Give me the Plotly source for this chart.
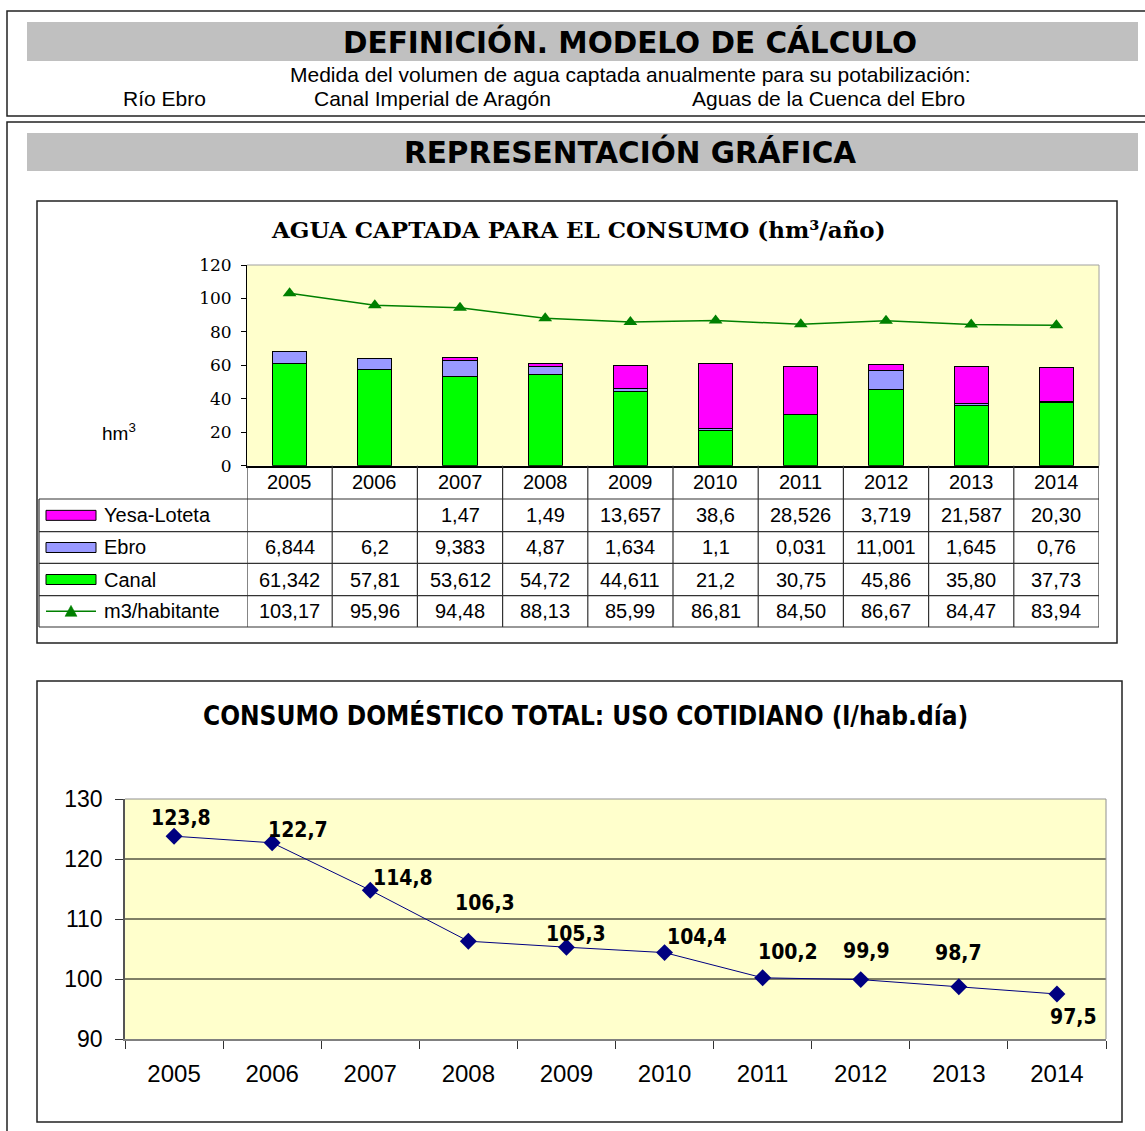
import plotly.graph_objects as go

# ---------------- data ----------------
years = ["2005", "2006", "2007", "2008", "2009", "2010", "2011", "2012", "2013", "2014"]

yesa_txt = [None, None, "1,47", "1,49", "13,657", "38,6", "28,526", "3,719", "21,587", "20,30"]
ebro_txt = ["6,844", "6,2", "9,383", "4,87", "1,634", "1,1", "0,031", "11,001", "1,645", "0,76"]
canal_txt = ["61,342", "57,81", "53,612", "54,72", "44,611", "21,2", "30,75", "45,86", "35,80", "37,73"]
hab_txt = ["103,17", "95,96", "94,48", "88,13", "85,99", "86,81", "84,50", "86,67", "84,47", "83,94"]

consumo_txt = ["123,8", "122,7", "114,8", "106,3", "105,3", "104,4", "100,2", "99,9", "98,7", "97,5"]


def num(s):
    return None if s is None else float(s.replace(",", "."))


yesa = [num(s) for s in yesa_txt]
ebro = [num(s) for s in ebro_txt]
canal = [num(s) for s in canal_txt]
hab = [num(s) for s in hab_txt]
consumo = [num(s) for s in consumo_txt]

# label offsets (pixels) for the second chart's data labels
label_dx = [7, 26, 33, 17, 10, 32, 25, 6, 0, 17]
label_dy = [18, 13, 12, 38, 13, 16, 26, 29, 34, -23]

# ---------------- helpers ----------------
W, H = 1145, 1131


def px(x):
    return x / W


def py(y):
    return 1 - y / H


SANS = "Liberation Sans, Arial, sans-serif"
NARROW = "Liberation Sans Narrow, Arial Narrow, DejaVu Sans Condensed, sans-serif"
SERIF = "DejaVu Serif, Times New Roman, serif"
HEAD = "DejaVu Sans, Verdana, Tahoma, sans-serif"

fig = go.Figure()

# ---------------- chart 1: stacked bars + line ----------------
bar_line = dict(color="black", width=1)
fig.add_trace(go.Bar(x=years, y=canal, name="Canal",
                     marker=dict(color="#00FF00", line=bar_line), xaxis="x", yaxis="y"))
fig.add_trace(go.Bar(x=years, y=ebro, name="Ebro",
                     marker=dict(color="#9999FF", line=bar_line), xaxis="x", yaxis="y"))
fig.add_trace(go.Bar(x=years, y=yesa, name="Yesa-Loteta",
                     marker=dict(color="#FF00FF", line=bar_line), xaxis="x", yaxis="y"))
fig.add_trace(go.Scatter(x=years, y=hab, name="m3/habitante", mode="lines+markers",
                         line=dict(color="#008000", width=1.5),
                         marker=dict(symbol="triangle-up", size=12, color="#008000"),
                         xaxis="x", yaxis="y"))

# ---------------- chart 2: line ----------------
fig.add_trace(go.Scatter(x=years, y=consumo, mode="lines+markers",
                         line=dict(color="#000080", width=1),
                         marker=dict(symbol="diamond", size=13, color="#000080"),
                         xaxis="x2", yaxis="y2"))

shapes = []
annotations = []


def note(text, x, y, size, family, xanchor="center", xref="paper", **kw):
    annotations.append(dict(text=text, x=x, y=y, xref=xref, yref=kw.pop("yref", "paper"),
                            xanchor=xanchor, yanchor="middle", showarrow=False,
                            font=dict(family=family, size=size, color="black"), **kw))


# page frames
shapes.append(dict(type="rect", xref="paper", yref="paper", x0=px(7), x1=px(1160),
                   y0=py(11), y1=py(116), line=dict(color="#222", width=1.5)))
shapes.append(dict(type="rect", xref="paper", yref="paper", x0=px(7), x1=px(1160),
                   y0=py(122), y1=py(1160), line=dict(color="#222", width=1.5)))
for (t, b) in [(22, 61), (133, 171)]:
    shapes.append(dict(type="rect", xref="paper", yref="paper", x0=px(27), x1=px(1138),
                       y0=py(t), y1=py(b), fillcolor="#C0C0C0", line=dict(width=0), layer="below"))

note("<b>DEFINICIÓN. MODELO DE CÁLCULO</b>", px(630), py(42), 29.5, HEAD)
note("<b>REPRESENTACIÓN GRÁFICA</b>", px(630), py(152), 29.5, HEAD)
note("Medida del volumen de agua captada anualmente para su potabilización:",
     px(630), py(75), 21, SANS)
for txt, cx in [("Río Ebro", 164), ("Canal Imperial de Aragón", 432), ("Aguas de la Cuenca del Ebro", 828)]:
    note(txt, px(cx), py(98), 21, SANS)

# chart frames
shapes.append(dict(type="rect", xref="paper", yref="paper", x0=px(37), x1=px(1117),
                   y0=py(201), y1=py(643), line=dict(color="#222", width=1.5)))
shapes.append(dict(type="rect", xref="paper", yref="paper", x0=px(37), x1=px(1122),
                   y0=py(681), y1=py(1122), line=dict(color="#222", width=1.5)))

# chart 1 title & unit
note("<b>AGUA CAPTADA PARA EL CONSUMO (hm³/año)</b>", px(578), py(229), 23, SERIF)
note("hm<sup>3</sup>", px(119), py(432), 19, SANS)

# chart 1 plot border (top/right)
shapes.append(dict(type="line", xref="x domain", yref="y domain", x0=0, x1=1, y0=1, y1=1,
                   line=dict(color="#A0A0A0", width=1)))
shapes.append(dict(type="line", xref="x domain", yref="y domain", x0=1, x1=1, y0=0, y1=1,
                   line=dict(color="#A0A0A0", width=1)))

# data table under chart 1
T_TOP, T_ROWS = 465.7, [499, 531.7, 563.3, 595.7, 627]
tcol = "#333"
for i in range(len(years) + 1):
    shapes.append(dict(type="line", xref="x", yref="paper", x0=i - 0.5, x1=i - 0.5,
                       y0=py(T_TOP), y1=py(T_ROWS[-1]), line=dict(color=tcol, width=1.2)))
for yy in T_ROWS:
    shapes.append(dict(type="line", xref="paper", yref="paper", x0=px(39), x1=px(1099),
                       y0=py(yy), y1=py(yy), line=dict(color=tcol, width=1.2)))
shapes.append(dict(type="line", xref="paper", yref="paper", x0=px(39), x1=px(39),
                   y0=py(T_ROWS[0]), y1=py(T_ROWS[-1]), line=dict(color=tcol, width=1.2)))

row_centers = [(T_TOP + T_ROWS[0]) / 2] + [(T_ROWS[k] + T_ROWS[k + 1]) / 2 for k in range(4)]
TSIZE = 20
for i, yr in enumerate(years):
    note(yr, i, py(row_centers[0]), TSIZE, SANS, xref="x")
rows = [("Yesa-Loteta", yesa_txt, "#FF00FF"), ("Ebro", ebro_txt, "#9999FF"),
        ("Canal", canal_txt, "#00FF00"), ("m3/habitante", hab_txt, None)]
for r, (name, vals, col) in enumerate(rows):
    yc = row_centers[r + 1]
    note(name, px(102), py(yc), TSIZE, SANS, xanchor="left")
    for i, v in enumerate(vals):
        if v is not None:
            note(v, i, py(yc), TSIZE, SANS, xref="x")
    if col is not None:
        shapes.append(dict(type="rect", xref="paper", yref="paper", x0=px(46), x1=px(96),
                           y0=py(yc - 5), y1=py(yc + 5), fillcolor=col,
                           line=dict(color="black", width=1)))
    else:
        shapes.append(dict(type="line", xref="paper", yref="paper", x0=px(46), x1=px(96),
                           y0=py(yc), y1=py(yc), line=dict(color="#008000", width=1.5)))
        shapes.append(dict(type="path", xref="paper", yref="paper",
                           path=f"M {px(65)},{py(yc + 5)} L {px(77)},{py(yc + 5)} L {px(71)},{py(yc - 6)} Z",
                           fillcolor="#008000", line=dict(color="#008000", width=0.5)))

# ---------------- chart 2 decorations ----------------
note("<b>CONSUMO DOMÉSTICO TOTAL: USO COTIDIANO (l/hab.día)</b>", px(585), py(715), 26, NARROW)
for g in [100, 110, 120]:
    shapes.append(dict(type="line", xref="x2 domain", yref="y2", x0=0, x1=1, y0=g, y1=g,
                       line=dict(color="black", width=1), layer="below"))
shapes.append(dict(type="line", xref="x2 domain", yref="y2 domain", x0=0, x1=1, y0=1, y1=1,
                   line=dict(color="#909090", width=1)))
shapes.append(dict(type="line", xref="x2 domain", yref="y2 domain", x0=1, x1=1, y0=0, y1=1,
                   line=dict(color="#909090", width=1)))
for i, (v, t) in enumerate(zip(consumo, consumo_txt)):
    note(f"<b>{t}</b>", i, v, 21, NARROW, xref="x2", yref="y2",
         xshift=label_dx[i], yshift=label_dy[i])

fig.update_layout(
    width=W, height=H, margin=dict(l=0, r=0, t=0, b=0, autoexpand=False),
    paper_bgcolor="white", plot_bgcolor="#FFFFCC",
    barmode="stack", bargap=0.6, showlegend=False,
    xaxis=dict(domain=[px(247), px(1099)], anchor="y", type="category", range=[-0.5, 9.5],
               showticklabels=False, ticks="", showgrid=False, zeroline=False,
               showline=True, linecolor="black", linewidth=2, fixedrange=True, automargin=False),
    yaxis=dict(domain=[py(465.7), py(265)], anchor="x", range=[0, 120], dtick=20,
               ticks="outside", ticklen=5, tickcolor="black", showgrid=False, zeroline=False,
               showline=True, linecolor="black", linewidth=1, automargin=False,
               ticklabelstandoff=6,
               tickfont=dict(family=SERIF, size=17, color="black"), fixedrange=True),
    xaxis2=dict(domain=[px(125), px(1106)], anchor="y2", type="category", range=[-0.5, 9.5],
                tickson="boundaries", ticks="outside", ticklen=8, tickcolor="#333",
                showgrid=False, zeroline=False, showline=True, linecolor="#808080", linewidth=1.5,
                tickfont=dict(family=SANS, size=24, color="black"), ticklabelstandoff=12,
                fixedrange=True, automargin=False),
    yaxis2=dict(domain=[py(1039), py(799)], anchor="x2", range=[90, 130], dtick=10,
                ticks="outside", ticklen=8, tickcolor="#333", showgrid=False, zeroline=False,
                showline=True, linecolor="#555", linewidth=1.5, automargin=False,
                ticklabelstandoff=8,
                tickfont=dict(family=SANS, size=23, color="black"), fixedrange=True),
    shapes=shapes, annotations=annotations,
)

fig.write_html("out.html", config={"displayModeBar": False},
               post_script="document.body.style.margin='0';document.body.style.overflow='hidden';")
